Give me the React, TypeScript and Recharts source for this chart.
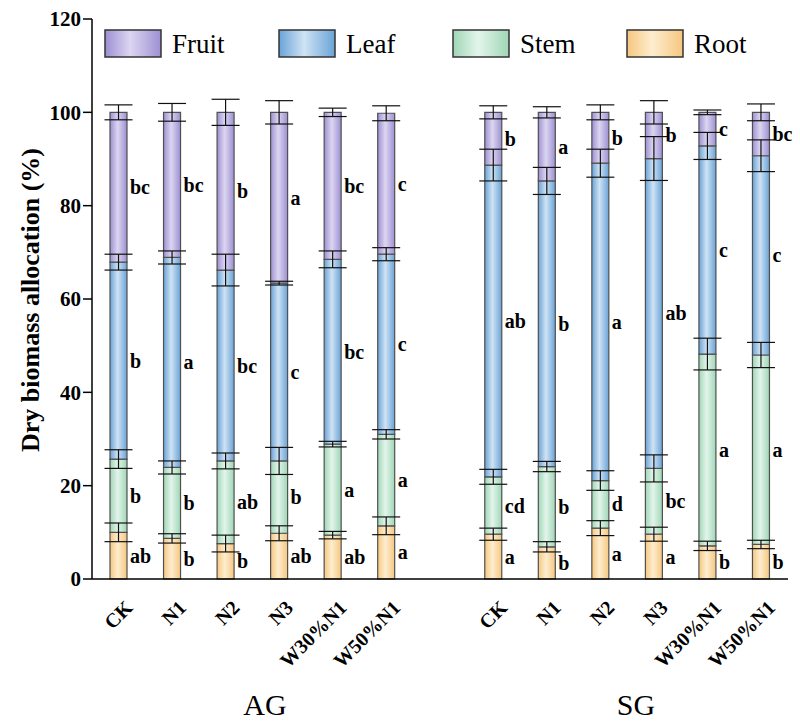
import React from 'react';
import { BarChart, Bar, XAxis, YAxis, ErrorBar, LabelList } from 'recharts';

const treatments = ['CK', 'N1', 'N2', 'N3', 'W30%N1', 'W50%N1'];
const groupNames = ['AG', 'SG'];
const seriesNames = ['Root', 'Stem', 'Leaf', 'Fruit'];
const yTicks = [0, 20, 40, 60, 80, 100, 120];

const agRoot = [10.0, 8.7, 7.6, 9.8, 9.4, 11.4];
const agStem = [15.7, 15.2, 17.7, 15.5, 19.5, 19.6];
const agLeaf = [42.2, 45.0, 40.9, 38.1, 39.6, 38.6];
const agFruit = [32.1, 31.1, 33.8, 36.6, 31.5, 30.2];
const sgRoot = [9.6, 6.9, 10.9, 9.6, 7.1, 7.4];
const sgStem = [12.3, 17.2, 10.2, 14.1, 41.1, 40.6];
const sgLeaf = [66.8, 61.2, 68.0, 66.4, 44.6, 42.7];
const sgFruit = [11.3, 14.7, 10.9, 9.9, 7.2, 9.3];

const agRootErr = [2.0, 1.0, 1.8, 1.6, 0.8, 1.9];
const agStemErr = [2.0, 1.4, 1.7, 2.9, 0.6, 1.0];
const agLeafErr = [1.7, 1.4, 3.4, 0.4, 1.8, 1.4];
const agFruitErr = [1.6, 1.9, 2.8, 2.5, 0.9, 1.6];
const sgRootErr = [1.3, 1.1, 1.6, 1.5, 1.0, 0.9];
const sgStemErr = [1.6, 1.1, 2.1, 2.9, 3.4, 2.7];
const sgLeafErr = [3.4, 2.9, 3.0, 4.7, 2.9, 3.4];
const sgFruitErr = [1.4, 1.2, 1.6, 2.5, 0.5, 1.8];

const agRootL = ['ab', 'b', 'b', 'ab', 'ab', 'a'];
const agStemL = ['b', 'b', 'ab', 'b', 'a', 'a'];
const agLeafL = ['b', 'a', 'bc', 'c', 'bc', 'c'];
const agFruitL = ['bc', 'bc', 'b', 'a', 'bc', 'c'];
const sgRootL = ['a', 'b', 'a', 'a', 'b', 'b'];
const sgStemL = ['cd', 'b', 'd', 'bc', 'a', 'a'];
const sgLeafL = ['ab', 'b', 'a', 'ab', 'c', 'c'];
const sgFruitL = ['b', 'a', 'b', 'b', 'c', 'bc'];

const colors: Record<string, { edge: string; mid: string }> = {
  Root: { edge: '#f6c77f', mid: '#fdedcf' },
  Stem: { edge: '#9fd6b6', mid: '#e3f5eb' },
  Leaf: { edge: '#6aa3d7', mid: '#cfe3f4' },
  Fruit: { edge: '#9d90d2', mid: '#dcd6f1' },
};

const buildGroup = (g: string, r: number[], s: number[], l: number[], f: number[], re: number[], se: number[], le: number[], fe: number[], rl: string[], sl: string[], ll: string[], fl: string[]) =>
  treatments.map((t, i) => ({
    key: `${g}-${t}`,
    label: t,
    Root: r[i], Stem: s[i], Leaf: l[i], Fruit: f[i],
    RootErr: re[i], StemErr: se[i], LeafErr: le[i], FruitErr: fe[i],
    RootL: rl[i], StemL: sl[i], LeafL: ll[i], FruitL: fl[i],
  }));

const data: any[] = [
  ...buildGroup(groupNames[0], agRoot, agStem, agLeaf, agFruit, agRootErr, agStemErr, agLeafErr, agFruitErr, agRootL, agStemL, agLeafL, agFruitL),
  { key: 'gap', label: '' },
  ...buildGroup(groupNames[1], sgRoot, sgStem, sgLeaf, sgFruit, sgRootErr, sgStemErr, sgLeafErr, sgFruitErr, sgRootL, sgStemL, sgLeafL, sgFruitL),
];

const FONT = 'Liberation Serif, Times New Roman, serif';
const serif = { fontFamily: FONT };

const XTick = (props: any) => {
  const { x, y, payload } = props;
  const entry = data.find((d) => d.key === payload.value);
  const label = entry ? entry.label : '';
  if (!label) return null;
  return (
    <text
      transform={`translate(${x + 15},${y + 30}) rotate(-45)`}
      textAnchor="end"
      style={{ ...serif, fontWeight: 'bold', fontSize: 20 }}
      fill="#000"
    >
      {label}
    </text>
  );
};

const makeLetter = (name: string) => (props: any) => {
  const { x, y, width, height, value } = props;
  const letter = typeof value === 'string' ? value : props.payload ? props.payload[`${name}L`] : undefined;
  if (!letter || !height) return null;
  return (
    <text
      x={Number(x) + Number(width) + 3}
      y={Number(y) + Number(height) / 2}
      dominantBaseline="central"
      style={{ ...serif, fontWeight: 'bold', fontSize: 20 }}
      fill="#000"
    >
      {letter}
    </text>
  );
};

const errKey = (name: string) => (d: any) => {
  const src = d && d.payload ? d.payload : d;
  return src ? src[`${name}Err`] : undefined;
};

const Gradients = ({ prefix }: { prefix: string }) => (
  <defs>
    {seriesNames.map((n) => (
      <linearGradient key={n} id={`${prefix}${n}`} x1="0" y1="0" x2="1" y2="0">
        <stop offset="0%" stopColor={colors[n].edge} />
        <stop offset="45%" stopColor={colors[n].mid} />
        <stop offset="100%" stopColor={colors[n].edge} />
      </linearGradient>
    ))}
  </defs>
);

const legendOrder = [...seriesNames].reverse();

export default function App() {
  return (
    <div style={{ position: 'absolute', left: 0, top: 0, width: 800, height: 728, background: '#fff' }}>
      <BarChart
        width={800}
        height={728}
        data={data}
        margin={{ top: 19, right: 12, bottom: 119, left: 32 }}
        barSize={17}
      >
        <Gradients prefix="bar" />
        <XAxis
          dataKey="key"
          interval={0}
          tick={<XTick />}
          tickLine={false}
          tickSize={0}
          tickMargin={0}
          height={30}
          axisLine={{ stroke: '#000', strokeWidth: 1.5 }}
        />
        <XAxis
          xAxisId="top"
          orientation="top"
          dataKey="key"
          tick={false}
          tickLine={false}
          height={0}
          axisLine={{ stroke: '#000', strokeWidth: 1.5 }}
        />
        <YAxis
          domain={[0, 120]}
          ticks={yTicks}
          interval={0}
          width={60}
          tickSize={9}
          tickMargin={2}
          tickLine={{ stroke: '#000', strokeWidth: 1.5 }}
          axisLine={{ stroke: '#000', strokeWidth: 1.5 }}
          tick={{ fill: '#000', fontFamily: FONT, fontWeight: 'bold', fontSize: 21, style: serif }}
        />
        <YAxis
          yAxisId="right"
          orientation="right"
          domain={[0, 120]}
          ticks={yTicks}
          width={0}
          tick={false}
          tickLine={false}
          axisLine={{ stroke: '#000', strokeWidth: 1.5 }}
        />
        {seriesNames.map((n) => (
          <Bar
            key={n}
            dataKey={n}
            stackId="s"
            fill={`url(#bar${n})`}
            stroke="#505050"
            strokeWidth={1.2}
            isAnimationActive={false}
          >
            <ErrorBar dataKey={errKey(n)} width={14} stroke="#111" strokeWidth={1.2} />
            <LabelList dataKey={`${n}L`} content={makeLetter(n)} />
          </Bar>
        ))}
      </BarChart>
      <svg
        width={800}
        height={728}
        style={{ position: 'absolute', left: 0, top: 0, pointerEvents: 'none' }}
      >
        <Gradients prefix="leg" />
        {legendOrder.map((n, i) => {
          const sx = 105 + i * 174;
          return (
            <g key={n}>
              <rect x={sx} y={30} width={56} height={27} fill={`url(#leg${n})`} stroke="#333" strokeWidth={1.5} />
              <text x={sx + 67} y={53} style={{ ...serif, fontSize: 27 }} fill="#000">
                {n}
              </text>
            </g>
          );
        })}
        <text
          transform="translate(30,300) rotate(-90)"
          textAnchor="middle"
          dominantBaseline="central"
          style={{ ...serif, fontWeight: 'bold', fontSize: 26 }}
          fill="#000"
        >
          Dry biomass allocation (%)
        </text>
        <text x={265} y={715} textAnchor="middle" style={{ ...serif, fontSize: 30 }} fill="#000">
          {groupNames[0]}
        </text>
        <text x={636} y={715} textAnchor="middle" style={{ ...serif, fontSize: 30 }} fill="#000">
          {groupNames[1]}
        </text>
      </svg>
    </div>
  );
}
